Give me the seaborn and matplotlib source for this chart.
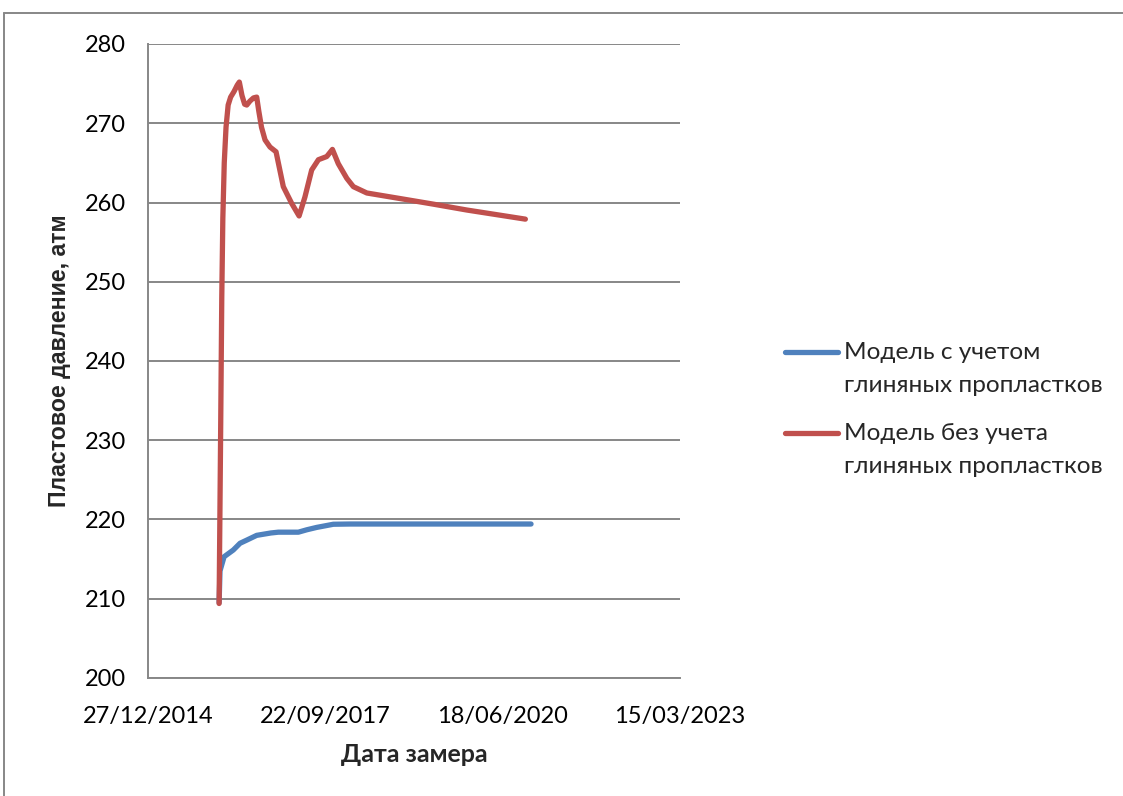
import matplotlib
matplotlib.use("Agg")
import matplotlib.pyplot as plt
import matplotlib.dates as mdates
from matplotlib.lines import Line2D
import numpy as np
import pandas as pd
import seaborn as sns

# Series names (shown in the legend, two lines each)
series_names = ["Модель с учетом\nглиняных пропластков",
                "Модель без учета\nглиняных пропластков"]

# Model that accounts for clay interlayers
clay_dates = ["2016-02-01", "2016-02-06", "2016-02-29", "2016-04-21", "2016-05-29",
              "2016-07-06", "2016-08-31", "2016-11-19", "2016-12-31", "2017-04-23",
              "2017-06-09", "2017-08-04", "2017-11-06", "2018-02-08", "2020-11-25"]
clay_pressure = [209.5, 213.5, 215.3, 216.15, 217.0,
                 217.4, 218.0, 218.3, 218.4, 218.4,
                 218.7, 219.0, 219.4, 219.43, 219.43]

# Model without clay interlayers
noclay_dates = ["2016-02-01", "2016-02-10", "2016-02-16", "2016-02-22", "2016-03-01",
                "2016-03-11", "2016-03-23", "2016-04-06", "2016-04-25", "2016-05-13",
                "2016-05-25", "2016-06-09", "2016-06-24", "2016-07-06", "2016-07-24",
                "2016-08-13", "2016-08-31", "2016-09-12", "2016-09-27", "2016-10-17",
                "2016-11-14", "2016-12-18", "2017-01-28", "2017-03-16", "2017-04-27",
                "2017-05-30", "2017-07-07", "2017-08-14", "2017-09-30", "2017-11-01",
                "2017-12-04", "2018-01-21", "2018-02-27", "2018-04-06", "2018-05-14",
                "2018-11-17", "2019-05-22", "2019-11-29", "2020-06-03", "2020-10-24"]
noclay_pressure = [209.4, 232.0, 248.0, 258.0, 265.0,
                   269.5, 272.3, 273.3, 274.0, 274.8,
                   275.2, 273.5, 272.4, 272.3, 272.8,
                   273.2, 273.3, 271.5, 269.5, 267.9,
                   267.0, 266.4, 262.0, 259.9, 258.3,
                   260.7, 264.1, 265.4, 265.8, 266.7,
                   264.9, 263.05, 262.0, 261.6, 261.2,
                   260.5, 259.8, 259.05, 258.4, 257.9]

x_ticks = ["2014-12-27", "2017-09-22", "2020-06-18", "2023-03-15"]
y_ticks = [200, 210, 220, 230, 240, 250, 260, 270, 280]
line_colors = ["#4F81BD", "#C0504D"]
grid_gray = "#878787"

df = pd.concat([
    pd.DataFrame({"date": pd.to_datetime(clay_dates), "pressure": clay_pressure,
                  "series": series_names[0]}),
    pd.DataFrame({"date": pd.to_datetime(noclay_dates), "pressure": noclay_pressure,
                  "series": series_names[1]}),
], ignore_index=True)

sns.set_theme(style="white")
plt.rcParams["font.family"] = ["Lato", "Noto Sans", "DejaVu Sans"]

W, H = 1123, 796
fig = plt.figure(figsize=(W / 100, H / 100), dpi=100)
ax = fig.add_axes([148 / W, 1 - 678 / H, (680 - 148) / W, (678 - 44) / H])

sns.lineplot(data=df, x="date", y="pressure", hue="series", hue_order=series_names,
             palette=line_colors, estimator=None, linewidth=3.8, legend=False, ax=ax)
for ln in ax.lines:
    ln.set_solid_capstyle("round")
    ln.set_solid_joinstyle("round")

ax.set_xlim(pd.Timestamp(x_ticks[0]), pd.Timestamp(x_ticks[-1]))
ax.set_ylim(y_ticks[0], y_ticks[-1])
ax.set_xticks(pd.to_datetime(x_ticks))
ax.xaxis.set_major_formatter(mdates.DateFormatter("%d/%m/%Y"))
ax.set_yticks(y_ticks)
ax.tick_params(axis="both", length=0, labelsize=17, colors="black")
ax.tick_params(axis="x", pad=20)
ax.tick_params(axis="y", pad=16)

ax.yaxis.grid(True, color=grid_gray, linewidth=1.4)
ax.xaxis.grid(False)
for side in ["top", "right"]:
    ax.spines[side].set_visible(False)
for side in ["left", "bottom"]:
    ax.spines[side].set_color(grid_gray)
    ax.spines[side].set_linewidth(1.4)

ax.set_xlabel("Дата замера", fontsize=18, fontweight="bold")
ax.xaxis.set_label_coords(0.5, -(743 - 678) / 634)
ax.set_ylabel("Пластовое давление, атм", fontsize=16.7, fontweight="bold",
              family=["Liberation Sans", "DejaVu Sans"])
ax.yaxis.set_label_coords(-(148 - 71) / 532, 0.5)

# legend: two-line labels with the line sample beside the first line
line_gap = 1.72
handles = [Line2D([], [], color=c, linewidth=3.8, solid_capstyle="round") for c in line_colors]
leg = fig.legend(handles, series_names, loc="upper left",
                 bbox_to_anchor=(785 / W, 1 - 342 / H), frameon=False,
                 fontsize=17.6, handlelength=2.15, handletextpad=0.28,
                 labelspacing=1.1, borderpad=0, borderaxespad=0)
for txt in leg.get_texts():
    txt.set_linespacing(line_gap)
for h in leg.legend_handles:
    h.set_ydata(np.asarray(h.get_ydata()) + 12.4)

# chart-area frame
fig.add_artist(Line2D([4 / W, 4 / W], [0, 1 - 13 / H], color=grid_gray, linewidth=1.4))
fig.add_artist(Line2D([4 / W, 1], [1 - 13 / H, 1 - 13 / H], color=grid_gray, linewidth=1.4))

fig.savefig("out.png", dpi=100)
